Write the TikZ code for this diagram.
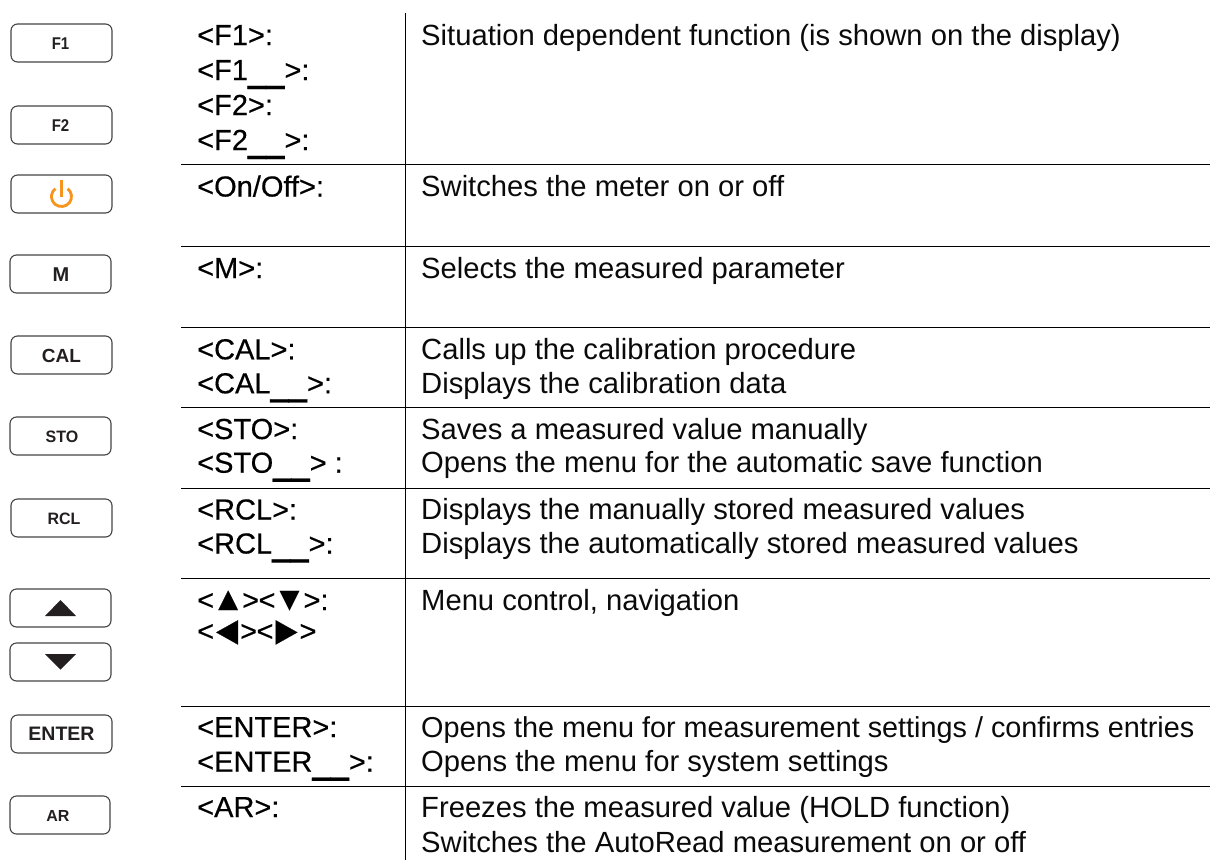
\documentclass[tikz,border=0pt]{standalone}
\usepackage{graphicx}
\usepackage{fontspec}
\setmainfont{Liberation Sans}
\newfontfamily\labfont[FakeBold=0.4]{Liberation Sans}
\newcommand{\us}{\smash{\raisebox{0.7pt}{\scalebox{1.13}[1.7]{\_\_}}}}
\newcommand{\trv}[1]{\makebox[28pt][c]{\smash{\scalebox{1.15}[1.15]{#1}}}}
\newcommand{\trh}[1]{\makebox[26pt][c]{\smash{\raisebox{-3pt}{\scalebox{1.25}[1.4]{#1}}}}}
\definecolor{keyink}{HTML}{231F20}
\definecolor{keyedge}{HTML}{444444}
\definecolor{poweror}{HTML}{F7941D}
\definecolor{bodyink}{HTML}{0A0A0A}
\tikzset{
  x=1pt,y=-1pt,
  keybox/.style={draw=keyedge,line width=1.1pt,rounded corners=6.5pt,fill=white},
  rulefine/.style={draw=black,line width=0.9pt},
  lab/.style={anchor=base west,inner sep=0pt,font=\fontsize{29}{29}\labfont,text=black},
  desc/.style={anchor=base west,inner sep=0pt,font=\fontsize{29.2}{29}\selectfont,text=bodyink},
  keytxt/.style={anchor=center,inner sep=0pt,text=keyink},
}
\newcommand{\keytext}[4]{\node[keytxt,font=\fontsize{#3}{#3}\selectfont\bfseries] (#1) at #2 {#4};}
\begin{document}
\begin{tikzpicture}
\useasboundingbox (0,0) rectangle (1210,860);
% table rules
\draw[rulefine] (405,13) -- (405,859.5);
\foreach \yy in {164.5,246.5,327.5,407.5,488.5,578.5,706.5,786.5}
  \draw[rulefine] (181,\yy) -- (1210,\yy);
% keys
\draw[keybox] (11,24) rectangle (112,62);
\draw[keybox] (11,106) rectangle (112,144);
\draw[keybox] (11,175) rectangle (112,213);
\draw[keybox] (10,255) rectangle (111,293);
\draw[keybox] (11,336) rectangle (112,374);
\draw[keybox] (10,417) rectangle (111,455);
\draw[keybox] (11,499) rectangle (112,537);
\draw[keybox] (10,589) rectangle (111,627);
\draw[keybox] (10,643) rectangle (111,681);
\draw[keybox] (11,715) rectangle (112,753);
\draw[keybox] (10,796) rectangle (110,834);
\keytext{kf1}{(60.5,43.5)}{17}{\scalebox{.88}[1]{F1}}
\keytext{kf2}{(60.5,125.5)}{17}{\scalebox{.88}[1]{F2}}
\keytext{km}{(61,274.5)}{20}{M}
\keytext{kcal}{(61.5,355.5)}{19}{CAL}
\keytext{ksto}{(62,436.5)}{16.5}{\scalebox{.97}[1]{STO}}
\keytext{krcl}{(64,519)}{16.5}{\scalebox{.97}[1]{RCL}}
\keytext{kent}{(61.5,734)}{19.5}{ENTER}
\keytext{kar}{(58,815.5)}{16}{AR}
% power icon
\draw[poweror,line width=2.8pt] (61.5,196.5) ++(-52:10) arc[start angle=-52,end angle=232,radius=10];
\draw[poweror,line width=2.8pt] (61.5,180) -- (61.5,197);
% arrow keys
\fill[keyink] (45,616) -- (60.5,600) -- (76,616) -- cycle;
\fill[keyink] (45,654) -- (76,654) -- (60.5,669.5) -- cycle;
% labels
\node[lab] (l1) at (197,45) {<F1>:};
\node[lab] (l2) at (197,80) {<F1\us>:};
\node[lab] (l3) at (197,115) {<F2>:};
\node[lab] (l4) at (197,150) {<F2\us>:};
\node[lab] (l5) at (197,196.5) {<On/Off>:};
\node[lab] (l6) at (197,278) {<M>:};
\node[lab] (l7) at (197,359.3) {<CAL>:};
\node[lab] (l8) at (197,393.3) {<CAL\us>:};
\node[lab] (l9) at (197,439) {<STO>:};
\node[lab] (l10) at (197,472.7) {<STO\us> :};
\node[lab] (l11) at (197,519.5) {<RCL>:};
\node[lab] (l12) at (197,553.5) {<RCL\us>:};
\node[lab] (l13) at (197,610) {<\trv{▲}>\kern-.5pt<\trv{▼}>:};
\node[lab] (l14) at (197,641) {<\trh{◄}>\kern-.5pt<\trh{►}>};
\node[lab] (l15) at (197,737) {<ENTER>:};
\node[lab] (l16) at (197,771.7) {<ENTER\us>:};
\node[lab] (l17) at (197,817) {<AR>:};
% descriptions
\node[desc] (d1) at (421,45) {Situation dependent function (is shown on the display)};
\node[desc] (d2) at (421,196.5) {Switches the meter on or off};
\node[desc] (d3) at (421,278) {Selects the measured parameter};
\node[desc] (d4) at (421,359.3) {Calls up the calibration procedure};
\node[desc] (d5) at (421,393.3) {Displays the calibration data};
\node[desc] (d6) at (421,439) {Saves a measured value manually};
\node[desc] (d7) at (421,472.7) {Opens the menu for the automatic save function};
\node[desc] (d8) at (421,519.5) {Displays the manually stored measured values};
\node[desc] (d9) at (421,553.5) {Displays the automatically stored measured values};
\node[desc] (d10) at (421,610) {Menu control, navigation};
\node[desc,font=\fontsize{28.8}{29}\selectfont] (d11) at (421,737) {Opens the menu for measurement settings / confirms entries};
\node[desc] (d12) at (421,771.7) {Opens the menu for system settings};
\node[desc] (d13) at (421,817) {Freezes the measured value (HOLD function)};
\node[desc] (d14) at (421,852) {Switches the AutoRead measurement on or off};
\end{tikzpicture}
\end{document}
